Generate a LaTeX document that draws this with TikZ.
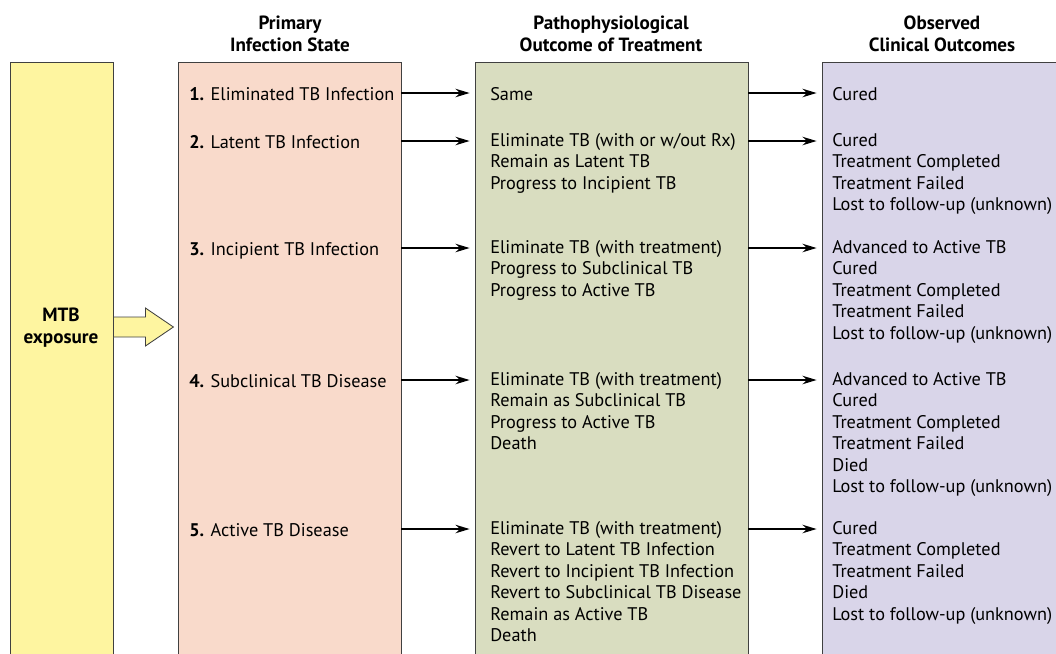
\documentclass[tikz,border=0pt]{standalone}
\usepackage{fontspec}
\setmainfont{PT Sans}
\usetikzlibrary{fit,calc,arrows.meta}

\definecolor{expoyellow}{HTML}{FEF5A0}
\definecolor{statepink}{HTML}{F9DACB}
\definecolor{patgreen}{HTML}{D9DDC0}
\definecolor{obspurple}{HTML}{D9D5E9}

\begin{document}
\begin{tikzpicture}[x=0.025cm, y=-0.025cm, >={Stealth[length=10pt, width=6pt]},
    colbox/.style={draw=black!75, line width=0.6pt, inner sep=0pt},
    hdr/.style={anchor=north, align=center, inner sep=0pt,
        execute at begin node=\strut,
        font=\fontsize{13.6}{15.2}\selectfont\bfseries},
    txt/.style={anchor=north west, align=left, inner sep=0pt,
        execute at begin node=\strut,
        font=\fontsize{13}{15.3}\selectfont},
    flow/.style={->, line width=1.3pt}]
    \useasboundingbox (0,0) rectangle (1056,653);

    % column boxes (run off the bottom of the page)
    \node[colbox, fill=expoyellow, fit={(10,62) (113,670)}] (expo) {};
    \node[colbox, fill=statepink, fit={(178,62) (401,670)}] (state) {};
    \node[colbox, fill=patgreen, fit={(475,62) (748,670)}] (patho) {};
    \node[colbox, fill=obspurple, fit={(822,62) (1070,670)}] (obs) {};

    % headers
    \node[hdr] (hstate) at (290,16) {Primary\\Infection State};
    \node[hdr] (hpatho) at (611,16) {Pathophysiological\\Outcome of Treatment};
    \node[hdr] (hobs) at (942,16) {Observed\\Clinical Outcomes};

    % exposure
    \node[hdr, font=\fontsize{13.6}{15.5}\selectfont\bfseries] (mtb) at (61,308) {MTB\\exposure};
    \coordinate (tail) at (expo.east |- 0,327);
    \draw[fill=expoyellow, draw=black!75, line width=0.6pt]
        (tail) ++(0,-10) -- ++(32,0) -- ++(0,-9) -- ++(28,19)
        -- ++(-28,19) -- ++(0,-9) -- ++(-32,0) -- cycle;

    % primary states
    \node[txt] (s1) at (189,85) {\textbf{1.} Eliminated TB Infection};
    \node[txt] (s2) at (189,133) {\textbf{2.} Latent TB Infection};
    \node[txt] (s3) at (189,240) {\textbf{3.} Incipient TB Infection};
    \node[txt] (s4) at (189,372) {\textbf{4.} Subclinical TB Disease};
    \node[txt] (s5) at (189,521) {\textbf{5.} Active TB Disease};

    % pathophysiological outcomes
    \node[txt] (p1) at (490,85) {Same};
    \node[txt] (p2) at (490,133) {Eliminate TB (with or w/out Rx)\\Remain as Latent TB\\Progress to Incipient TB};
    \node[txt] (p3) at (490,240) {Eliminate TB (with treatment)\\Progress to Subclinical TB\\Progress to Active TB};
    \node[txt] (p4) at (490,372) {Eliminate TB (with treatment)\\Remain as Subclinical TB\\Progress to Active TB\\Death};
    \node[txt] (p5) at (490,521) {Eliminate TB (with treatment)\\Revert to Latent TB Infection\\Revert to Incipient TB Infection\\Revert to Subclinical TB Disease\\Remain as Active TB\\Death};

    % observed outcomes
    \node[txt] (o1) at (832,85) {Cured};
    \node[txt] (o2) at (832,133) {Cured\\Treatment Completed\\Treatment Failed\\Lost to follow-up (unknown)};
    \node[txt] (o3) at (832,240) {Advanced to Active TB\\Cured\\Treatment Completed\\Treatment Failed\\Lost to follow-up (unknown)};
    \node[txt] (o4) at (832,372) {Advanced to Active TB\\Cured\\Treatment Completed\\Treatment Failed\\Died\\Lost to follow-up (unknown)};
    \node[txt] (o5) at (832,521) {Cured\\Treatment Completed\\Treatment Failed\\Died\\Lost to follow-up (unknown)};

    % arrows
    \foreach \y/\r in {93/1,141/2,248/3,380/4,529/5} {
        \draw[flow] (state.east |- 0,\y) -- ($(patho.west |- 0,\y)+(-5,0)$);
        \draw[flow] (patho.east |- 0,\y) -- ($(obs.west |- 0,\y)+(-5,0)$);
    }
\end{tikzpicture}
\end{document}
